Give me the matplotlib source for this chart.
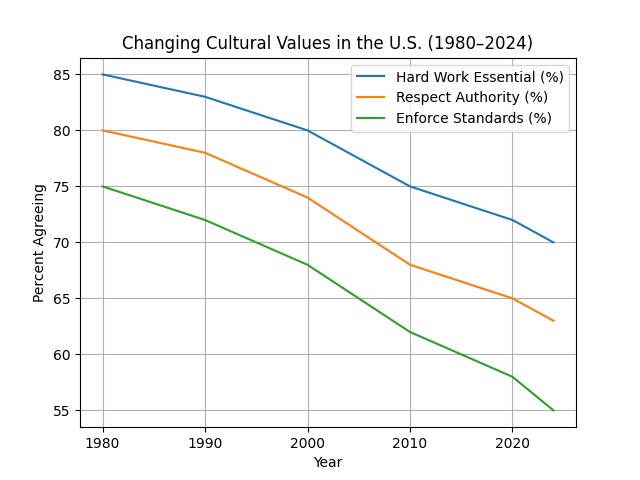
import matplotlib
matplotlib.use("Agg")
import matplotlib.pyplot as plt

years = [1980, 1990, 2000, 2010, 2020, 2024]
hard_work = [85, 83, 80, 75, 72, 70]
respect_authority = [80, 78, 74, 68, 65, 63]
enforce_standards = [75, 72, 68, 62, 58, 55]

fig, ax = plt.subplots(figsize=(6.4, 4.8), dpi=100)
ax.plot(years, hard_work, label="Hard Work Essential (%)")
ax.plot(years, respect_authority, label="Respect Authority (%)")
ax.plot(years, enforce_standards, label="Enforce Standards (%)")
ax.set_title("Changing Cultural Values in the U.S. (1980–2024)")
ax.set_xlabel("Year")
ax.set_ylabel("Percent Agreeing")
ax.grid(True)
ax.legend(loc="upper right")
fig.savefig("out.png")
